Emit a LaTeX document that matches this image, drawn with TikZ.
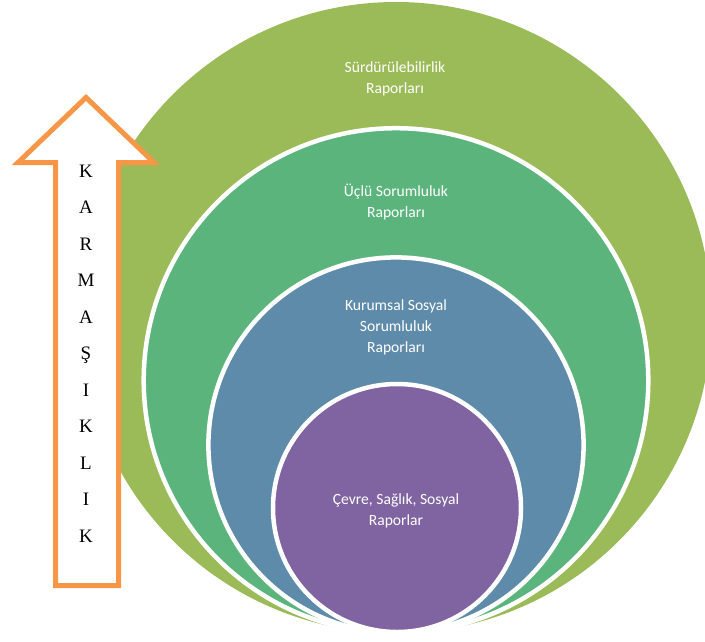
\documentclass[tikz,border=0pt]{standalone}
\usepackage{fontspec}
\setmainfont{Liberation Serif}
\newfontfamily\calibri{Carlito}
\usepackage{tikz}
\definecolor{olivegr}{RGB}{155,187,89}
\definecolor{seagr}{RGB}{92,180,125}
\definecolor{steelbl}{RGB}{95,139,170}
\definecolor{violet}{RGB}{128,100,162}
\definecolor{arroworange}{RGB}{247,150,70}

\begin{document}
\begin{tikzpicture}[x=1pt, y=-1pt,
  ring/.style = {draw=white, line width=4.5pt},
  ringtext/.style = {text=white, align=center, font=\calibri\fontsize{15.6}{21}\selectfont},
  letter/.style = {anchor=base, font=\fontsize{19}{19}\selectfont}]
  \useasboundingbox (0,0) rectangle (705,641);
  \clip (0,0) rectangle (705,641);
  \fill[olivegr] (396,317.5) circle (315.5pt);
  \draw[ring, fill=seagr] (396,380.5) circle (252.3pt);
  \draw[ring, fill=steelbl] (396,445) circle (187.6pt);
  \draw[ring, fill=violet] (397,508) circle (124pt);
\node[ringtext] (surd) at (395,79) {Sürdürülebilirlik\\Raporları};
\node[ringtext] (uclu) at (396,202) {Üçlü Sorumluluk\\Raporları};
\node[ringtext] (kss) at (396,327) {Kurumsal Sosyal\\Sorumluluk\\Raporları};
\node[ringtext] (csr) at (396,511) {Çevre, Sağlık, Sosyal\\Raporlar};
  \draw[line width=5pt, arroworange, fill=white, miter limit=4]
    (55.5,585.5) -- (55.5,162.5) -- (18,162.5) -- (86,97.5) -- (154,162.5)
    -- (118.5,162.5) -- (118.5,585.5) -- cycle;
  \foreach \l [count=\i] in {K,A,R,M,A,Ş,I,K,L,I,K}
    \node[letter] (l\i) at (86, {177+36.5*(\i-1)}) {\l};
 \end{tikzpicture}
\end{document}
